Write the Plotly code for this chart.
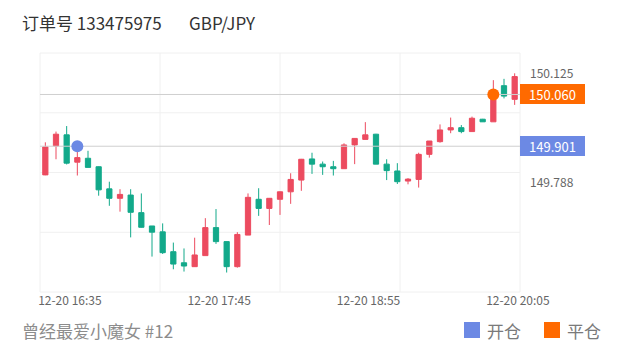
import plotly.graph_objects as go

# ---------------- data ----------------
times = ["16:25", "16:30", "16:35", "16:40", "16:45", "16:50", "16:55", "17:00", "17:05", "17:10",
         "17:15", "17:20", "17:25", "17:30", "17:35", "17:40", "17:45", "17:50", "17:55", "18:00",
         "18:05", "18:10", "18:15", "18:20", "18:25", "18:30", "18:35", "18:40", "18:45", "18:50",
         "18:55", "19:00", "19:05", "19:10", "19:15", "19:20", "19:25", "19:30", "19:35", "19:40",
         "19:45", "19:50", "19:55", "20:00", "20:05"]
date = "12-20"

opens = [149.813, 149.902, 149.936, 149.852, 149.864, 149.838, 149.770, 149.741, 149.751, 149.697,
         149.656, 149.638, 149.577, 149.543, 149.531, 149.565, 149.651, 149.608, 149.531, 149.628,
         149.738, 149.710, 149.738, 149.761, 149.797, 149.862, 149.846, 149.838, 149.832, 149.905,
         149.922, 149.938, 149.846, 149.825, 149.794, 149.799, 149.876, 149.915, 149.951, 149.958,
         149.946, 149.984, 149.976, 150.087, 150.045]
highs = [149.913, 149.946, 149.963, 149.889, 149.887, 149.839, 149.792, 149.769, 149.769, 149.756,
         149.656, 149.664, 149.605, 149.587, 149.620, 149.680, 149.708, 149.608, 149.637, 149.756,
         149.772, 149.742, 149.762, 149.818, 149.862, 149.881, 149.854, 149.856, 149.910, 149.926,
         149.975, 149.939, 149.861, 149.849, 149.803, 149.881, 149.917, 149.968, 149.989, 149.966,
         149.992, 149.985, 150.104, 150.108, 150.125]
lows = [149.812, 149.861, 149.845, 149.811, 149.836, 149.749, 149.718, 149.700, 149.621, 149.651,
        149.562, 149.570, 149.523, 149.516, 149.530, 149.565, 149.601, 149.513, 149.528, 149.628,
        149.687, 149.659, 149.690, 149.724, 149.764, 149.816, 149.813, 149.811, 149.832, 149.846,
        149.922, 149.846, 149.797, 149.785, 149.784, 149.774, 149.866, 149.912, 149.941, 149.941,
        149.946, 149.976, 149.976, 150.048, 150.028]
closes = [149.899, 149.938, 149.849, 149.866, 149.836, 149.767, 149.741, 149.753, 149.698, 149.652,
          149.637, 149.574, 149.539, 149.533, 149.567, 149.651, 149.608, 149.531, 149.630, 149.744,
          149.710, 149.741, 149.761, 149.799, 149.861, 149.846, 149.838, 149.832, 149.905, 149.925,
          149.936, 149.846, 149.826, 149.792, 149.800, 149.876, 149.917, 149.951, 149.958, 149.946,
          149.987, 149.976, 150.069, 150.055, 150.115]

open_time, open_price = "16:40", 149.901     # 开仓
close_time, close_price = "19:55", 150.060   # 平仓

x_tick_times = ["16:35", "17:45", "18:55", "20:05"]
y_tick_values = [150.125, 149.788]

title_order = "订单号 133475975"
title_pair = "GBP/JPY"
footer_text = "曾经最爱小魔女 #12"
legend_labels = ["开仓", "平仓"]

# ---------------- style ----------------
RED, GREEN = "#ec4b5f", "#12a98a"
BLUE, ORANGE = "#6c89e4", "#ff6a00"
GRID = "#f0f0f0"
MARK_LINE = "#cfcfcf"
FONT = "Noto Sans CJK SC, Noto Sans, sans-serif"
W, H = 620, 350
L, R, T, B = 40, 520, 53, 292
Y_RANGE = [149.4532, 150.1874]
LABEL_SHIFT = 0.3

def px_x(px):
    return (px - L) / (R - L)

def px_y(py):
    return (B - py) / (B - T)

xs = list(range(len(times)))
idx = {t: i for i, t in enumerate(times)}

fig = go.Figure()
fig.add_trace(go.Candlestick(
    x=xs, open=opens, high=highs, low=lows, close=closes,
    increasing=dict(line=dict(color=RED, width=1), fillcolor=RED),
    decreasing=dict(line=dict(color=GREEN, width=1), fillcolor=GREEN),
    hoverinfo="skip", showlegend=False,
))
for p in [close_price, open_price]:
    fig.add_trace(go.Scatter(
        x=[-0.5, len(times) - 0.5], y=[p, p], mode="lines",
        line=dict(color=MARK_LINE, width=1), hoverinfo="skip", showlegend=False,
    ))
fig.add_trace(go.Scatter(x=[idx[open_time]], y=[open_price], mode="markers",
                         marker=dict(color=BLUE, size=12), hoverinfo="skip", showlegend=False))
fig.add_trace(go.Scatter(x=[idx[close_time]], y=[close_price], mode="markers",
                         marker=dict(color=ORANGE, size=12), hoverinfo="skip", showlegend=False))

shapes = []
for k in range(5):
    f = k / 4
    shapes.append(dict(type="line", xref="paper", yref="paper", x0=0, x1=1, y0=f, y1=f,
                       line=dict(color=GRID, width=1), layer="below"))
    shapes.append(dict(type="line", xref="paper", yref="paper", x0=f, x1=f, y0=0, y1=1,
                       line=dict(color=GRID, width=1), layer="below"))
# legend squares
for cx, col in [(472, BLUE), (552, ORANGE)]:
    shapes.append(dict(type="rect", xref="paper", yref="paper",
                       x0=px_x(cx - 8), x1=px_x(cx + 8), y0=px_y(338), y1=px_y(322),
                       fillcolor=col, line=dict(width=0)))

annotations = [
    dict(text=title_order, xref="paper", yref="paper", x=px_x(20), y=px_y(22),
         xanchor="left", yanchor="middle", showarrow=False,
         font=dict(family=FONT, size=17, color="#333333")),
    dict(text=title_pair, xref="paper", yref="paper", x=px_x(187), y=px_y(22),
         xanchor="left", yanchor="middle", showarrow=False,
         font=dict(family=FONT, size=17, color="#333333")),
    dict(text=footer_text, xref="paper", yref="paper", x=px_x(20), y=px_y(330),
         xanchor="left", yanchor="middle", showarrow=False,
         font=dict(family=FONT, size=17, color="#8c8c8c")),
    dict(text=legend_labels[0], xref="paper", yref="paper", x=px_x(485), y=px_y(330),
         xanchor="left", yanchor="middle", showarrow=False,
         font=dict(family=FONT, size=17, color="#7a7a7a")),
    dict(text=legend_labels[1], xref="paper", yref="paper", x=px_x(565), y=px_y(330),
         xanchor="left", yanchor="middle", showarrow=False,
         font=dict(family=FONT, size=17, color="#7a7a7a")),
]
for p, col in [(close_price, ORANGE), (open_price, BLUE)]:
    annotations.append(dict(text=f"{p:.3f}", xref="paper", yref="y", x=1, y=p,
                            xanchor="left", yanchor="middle", showarrow=False,
                            width=65, height=20, borderpad=0, borderwidth=0,
                            bgcolor=col, align="center",
                            font=dict(family=FONT, size=13, color="white")))

fig.update_layout(
    width=W, height=H, autosize=False,
    margin=dict(l=L, r=W - R, t=T, b=H - B, pad=0),
    paper_bgcolor="white", plot_bgcolor="white",
    shapes=shapes, annotations=annotations,
    font=dict(family=FONT),
    xaxis=dict(range=[-0.5, len(times) - 0.5], rangeslider=dict(visible=False),
               showgrid=False, zeroline=False, showline=False, ticks="",
               tickvals=[idx[t] + LABEL_SHIFT for t in x_tick_times],
               ticktext=[f"{date} {t}" for t in x_tick_times],
               tickfont=dict(size=12, color="#666666")),
    yaxis=dict(range=Y_RANGE, side="right", showgrid=False, zeroline=False, showline=False,
               ticks="", tickvals=y_tick_values, ticktext=[f"{v:.3f}" for v in y_tick_values],
               ticklabelstandoff=9, tickfont=dict(size=12, color="#666666")),
    hovermode=False,
)

fig.write_html("out.html")
